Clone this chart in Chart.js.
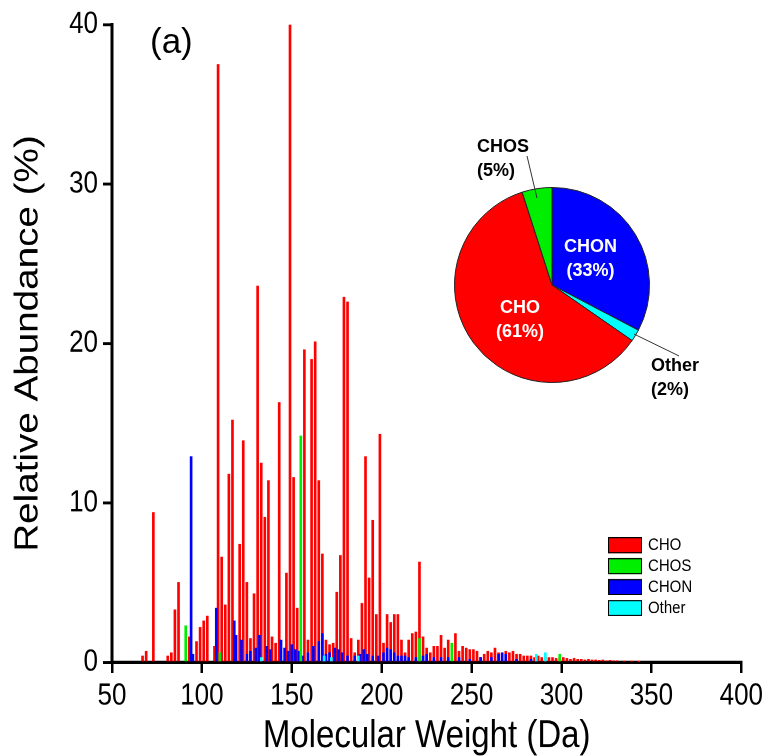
<!DOCTYPE html>
<html>
<head>
<meta charset="utf-8">
<title>Molecular weight distribution</title>
<script src="https://cdn.jsdelivr.net/npm/chart.js@4.4.1/dist/chart.umd.min.js"></script>
<style>
  html, body { margin: 0; padding: 0; background: #fff; }
  #figure { position: relative; width: 767px; height: 756px; overflow: hidden; }
  /* spectrum panel is drawn short and stretched to full height, like the original plot */
  #spectrum { position: absolute; left: 0; top: 0; width: 767px; height: 646px; transform: scaleY(1.1703); transform-origin: 0 0; }
  #inset { position: absolute; left: 440px; top: 130px; width: 280px; height: 290px; }
  #panel { position: absolute; left: 150px; top: 23px; font: 35px Arial, "Liberation Sans", sans-serif; line-height: 35px; color: #000; }
</style>
</head>
<body>
<div id="figure">
  <div id="spectrum"><canvas id="spectrumChart"></canvas></div>
  <div id="inset"><canvas id="pieChart"></canvas></div>
  <div id="panel">(a)</div>
</div>
<script>
const FONT = 'Arial, "Liberation Sans", sans-serif';

// peaks per compound class: nominal mass (Da) and relative abundance (%)
const choMass = [67, 69, 73, 81, 83, 85, 87, 93, 97, 99,
  101, 103, 107, 109, 111, 113, 115, 117, 121, 123,
  125, 127, 129, 131, 133, 135, 137, 139, 141, 143,
  147, 149, 151, 153, 157, 159, 161, 163, 165, 167,
  169, 171, 173, 175, 177, 179, 181, 183, 185, 187,
  189, 191, 193, 195, 197, 199, 201, 203, 205, 207,
  209, 211, 213, 215, 217, 219, 221, 223, 225, 227,
  229, 231, 233, 235, 237, 241, 243, 245, 247, 249,
  251, 253, 255, 257, 259, 261, 263, 265, 267, 269,
  271, 273, 275, 277, 279, 281, 283, 285, 287, 289,
  291, 293, 295, 297, 299, 301, 303, 305, 307, 309,
  311, 313, 315, 317, 319, 321, 323, 325, 327, 329,
  331, 335, 339, 343];
const choAbund = [0.4, 0.7, 9.4, 0.4, 0.6, 3.3, 5.0, 1.6, 1.3, 2.2,
  2.6, 2.9, 1.0, 37.5, 6.6, 3.6, 11.8, 15.2, 7.4, 13.9,
  5.0, 1.5, 4.3, 23.6, 12.5, 9.1, 11.4, 1.6, 1.2, 16.3,
  5.6, 40.0, 11.6, 3.4, 19.6, 1.4, 19.0, 20.1, 11.4, 6.8,
  1.4, 1.1, 1.2, 4.4, 6.7, 22.9, 22.6, 1.5, 0.6, 1.4,
  3.7, 12.9, 5.3, 8.9, 3.0, 14.3, 1.2, 3.0, 2.5, 3.0,
  3.0, 1.4, 0.6, 1.4, 1.8, 1.9, 6.3, 1.6, 0.9, 0.6,
  1.0, 1.0, 1.7, 0.9, 1.4, 1.8, 0.7, 1.0, 0.9, 0.8,
  0.8, 0.7, 0.3, 0.5, 0.7, 0.6, 0.9, 0.6, 0.6, 0.7,
  0.6, 0.7, 0.5, 0.5, 0.4, 0.4, 0.4, 0.3, 0.4, 0.3,
  0.35, 0.3, 0.3, 0.25, 0.3, 0.3, 0.25, 0.2, 0.25, 0.2,
  0.2, 0.15, 0.2, 0.15, 0.15, 0.12, 0.15, 0.1, 0.12, 0.1,
  0.1, 0.08, 0.08, 0.06];

const chosMass = [91, 110, 155, 221, 239, 299];
const chosAbund = [2.3, 0.6, 14.2, 1.5, 1.2, 0.5];

const chonMass = [94, 95, 108, 118, 119, 122, 125, 127, 130, 132,
  136, 138, 144, 146, 148, 150, 152, 154, 156, 159,
  162, 165, 167, 169, 171, 174, 176, 178, 181, 185,
  188, 190, 192, 195, 198, 201, 203, 205, 207, 209,
  211, 213, 215, 219, 223, 225, 229, 233, 237, 243,
  249, 255, 261, 265, 267, 269, 275, 283];
const chonAbund = [12.9, 0.5, 3.4, 2.6, 1.7, 1.4, 0.5, 0.7, 0.9, 1.7,
  1.0, 0.8, 1.4, 0.9, 0.7, 1.1, 0.8, 0.7, 0.4, 0.6,
  1.0, 1.3, 1.8, 0.5, 0.6, 0.9, 0.8, 0.6, 0.4, 0.4,
  0.5, 0.8, 0.5, 0.4, 0.4, 0.6, 0.9, 0.8, 0.6, 0.4,
  0.4, 0.4, 0.3, 0.3, 0.4, 0.5, 0.3, 0.3, 0.3, 0.3,
  0.2, 0.3, 0.3, 0.5, 0.6, 0.5, 0.2, 0.2];

const otherMass = [133, 168, 172, 187, 286, 291];
const otherAbund = [0.3, 0.4, 0.3, 0.4, 0.5, 0.6];

const massTicks = [50, 100, 150, 200, 250, 300, 350, 400];
const abundanceTicks = [0, 10, 20, 30, 40];

// composition of the inset pie, clockwise from 12 o'clock
const pieLabels = ['CHON', 'Other', 'CHO', 'CHOS'];
const pieShares = [33, 2, 61, 5];

const classColors = { CHO: '#ff0000', CHOS: '#00ee00', CHON: '#0000ff', Other: '#00ffff' };

const peaks = (mass, abund) => mass.map((x, i) => ({ x: x, y: abund[i] }));

function barSet(label, mass, abund, order) {
  return {
    label: label,
    data: peaks(mass, abund),
    backgroundColor: classColors[label],
    borderWidth: 0,
    barThickness: 2,
    grouped: false,
    order: order
  };
}

// boxed legend in the lower right of the plot
const boxLegend = {
  id: 'boxLegend',
  afterDraw(chart) {
    const ctx = chart.ctx;
    ctx.save();
    ctx.font = '15px ' + FONT;
    ctx.textBaseline = 'middle';
    ctx.textAlign = 'left';
    chart.data.datasets.forEach((ds, i) => {
      const top = 459 + i * 17.9;
      ctx.fillStyle = ds.backgroundColor;
      ctx.fillRect(608, top, 34, 13.7);
      ctx.lineWidth = 1;
      ctx.strokeStyle = '#000';
      ctx.strokeRect(608.5, top + 0.5, 33, 12.7);
      ctx.fillStyle = '#000';
      ctx.fillText(ds.label, 648, top + 7);
    });
    ctx.restore();
  }
};

new Chart(document.getElementById('spectrumChart'), {
  type: 'bar',
  data: {
    datasets: [
      barSet('CHO', choMass, choAbund, 4),
      barSet('CHOS', chosMass, chosAbund, 2),
      barSet('CHON', chonMass, chonAbund, 3),
      barSet('Other', otherMass, otherAbund, 1)
    ]
  },
  options: {
    responsive: true,
    maintainAspectRatio: false,
    animation: false,
    devicePixelRatio: 2,
    layout: { padding: { top: 21, right: 24, left: 0, bottom: 0 } },
    plugins: { legend: { display: false }, tooltip: { enabled: false } },
    scales: {
      x: {
        type: 'linear',
        min: 50,
        max: 400,
        offset: false,
        afterBuildTicks: s => { s.ticks = massTicks.map(v => ({ value: v })); },
        afterFit: s => { s.height = 80; },
        border: { display: true, color: '#000', width: 3 },
        grid: { drawOnChartArea: false, drawTicks: true, tickLength: 9, color: '#000', lineWidth: 2.5, offset: false },
        ticks: { font: { family: FONT, size: 26 }, color: '#000', padding: 4, maxRotation: 0, autoSkip: false },
        title: { display: true, text: 'Molecular Weight (Da)', color: '#000', font: { family: FONT, size: 33, lineHeight: 1 }, padding: 0 }
      },
      y: {
        min: 0,
        max: 40,
        afterBuildTicks: s => { s.ticks = abundanceTicks.map(v => ({ value: v })); },
        afterFit: s => { s.width = 112; },
        border: { display: true, color: '#000', width: 3 },
        grid: { drawOnChartArea: false, drawTicks: true, tickLength: 9, color: '#000', lineWidth: 2.5 },
        ticks: { font: { family: FONT, size: 26 }, color: '#000', padding: 5 },
        title: { display: true, text: 'Relative Abundance (%)', color: '#000', font: { family: FONT, size: 33, lineHeight: 1 }, padding: { top: 12, bottom: 0 } }
      }
    }
  },
  plugins: [boxLegend]
});

// slice captions and leader lines, placed in units of the pie radius
const noteLayout = {
  CHON: { at: [0.395, -0.267], align: 'center', color: '#fff' },
  CHO: { at: [-0.328, 0.359], align: 'center', color: '#fff' },
  CHOS: { at: [-0.77, -1.29], align: 'left', color: '#000', leader: [[-0.256, -1.323], [-0.154, -0.892]] },
  Other: { at: [1.015, 0.954], align: 'left', color: '#000', leader: [[0.841, 0.503], [1.303, 0.728]] }
};

const pieNotes = {
  id: 'pieNotes',
  afterDatasetsDraw(chart) {
    const arcs = chart.getDatasetMeta(0).data;
    const cx = arcs[0].x, cy = arcs[0].y, r = arcs[0].outerRadius;
    const ctx = chart.ctx;
    ctx.save();
    ctx.font = 'bold 18px ' + FONT;
    ctx.textBaseline = 'middle';
    chart.data.labels.forEach((name, i) => {
      const note = noteLayout[name];
      if (note.leader) {
        ctx.beginPath();
        ctx.moveTo(cx + note.leader[0][0] * r, cy + note.leader[0][1] * r);
        ctx.lineTo(cx + note.leader[1][0] * r, cy + note.leader[1][1] * r);
        ctx.strokeStyle = '#333';
        ctx.lineWidth = 1;
        ctx.stroke();
      }
      const tx = cx + note.at[0] * r, ty = cy + note.at[1] * r;
      ctx.fillStyle = note.color;
      ctx.textAlign = note.align;
      ctx.fillText(name, tx, ty - 12);
      ctx.fillText('(' + chart.data.datasets[0].data[i] + '%)', tx, ty + 12);
    });
    ctx.restore();
  }
};

new Chart(document.getElementById('pieChart'), {
  type: 'pie',
  data: {
    labels: pieLabels,
    datasets: [{
      data: pieShares,
      backgroundColor: pieLabels.map(l => classColors[l]),
      borderColor: '#222',
      borderWidth: 1
    }]
  },
  options: {
    responsive: true,
    maintainAspectRatio: false,
    animation: false,
    layout: { padding: { left: 14, top: 57, right: 70, bottom: 37 } },
    plugins: { legend: { display: false }, tooltip: { enabled: false } }
  },
  plugins: [pieNotes]
});
</script>
</body>
</html>
